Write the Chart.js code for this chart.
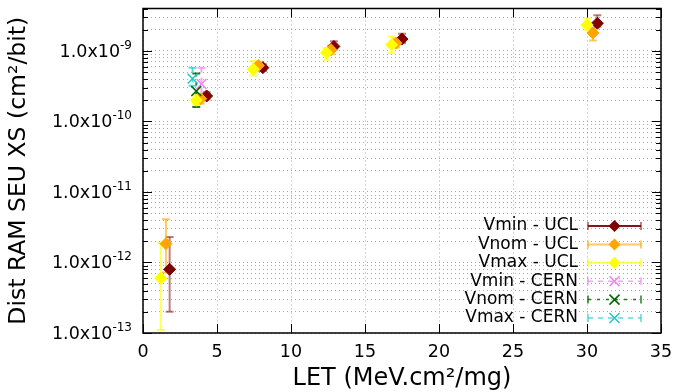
<!DOCTYPE html>
<html>
<head>
<meta charset="utf-8">
<script src="https://cdn.jsdelivr.net/npm/chart.js@4"></script>
<style>
html,body{margin:0;padding:0;background:#fff;}
#box{width:674px;height:392px;}
</style>
</head>
<body>
<div id="box"><canvas id="seuChart" width="674" height="392"></canvas></div>
<script>

/* Data (LET in MeV.cm2/mg, cross section in cm2/bit) */

const vminUclLet = [1.8, 4.3, 8.1, 12.9, 17.5, 30.7];
const vminUclXs  = [8.0e-13, 2.3e-10, 5.8e-10, 1.16e-9, 1.48e-9, 2.47e-9];
const vminUclLo  = [2.0e-13, 2.05e-10, 5.2e-10, 1.06e-9, 1.3e-9, 2.2e-9];
const vminUclHi  = [2.3e-12, 2.6e-10, 6.5e-10, 1.37e-9, 1.75e-9, 3.2e-9];

const vnomUclLet = [1.55, 3.9, 7.8, 12.7, 17.1, 30.4];
const vnomUclXs  = [1.85e-12, 2.1e-10, 6.2e-10, 1.04e-9, 1.29e-9, 1.8e-9];
const vnomUclLo  = [7.2e-13, 1.8e-10, 5.5e-10, 9.0e-10, 1.12e-9, 1.41e-9];
const vnomUclHi  = [4.1e-12, 2.45e-10, 7.0e-10, 1.2e-9, 1.5e-9, 2.1e-9];

const vmaxUclLet = [1.2, 3.6, 7.45, 12.4, 16.8, 30.0];
const vmaxUclXs  = [6.0e-13, 2.0e-10, 5.5e-10, 9.4e-10, 1.22e-9, 2.35e-9];
const vmaxUclLo  = [1.1e-13, 1.7e-10, 4.5e-10, 7.5e-10, 9.4e-10, 2.0e-9];
const vmaxUclHi  = [1.9e-12, 2.35e-10, 7.2e-10, 1.1e-9, 1.6e-9, 2.9e-9];

const vminCernLet = [3.95];
const vminCernXs  = [3.4e-10];
const vminCernLo  = [2.3e-10];
const vminCernHi  = [5.8e-10];

const vnomCernLet = [3.6];
const vnomCernXs  = [2.7e-10];
const vnomCernLo  = [1.6e-10];
const vnomCernHi  = [4.8e-10];

const vmaxCernLet = [3.35];
const vmaxCernXs  = [4.05e-10];
const vmaxCernLo  = [3.2e-10];
const vmaxCernHi  = [5.8e-10];

const yMajorTicks = [1e-13, 1e-12, 1e-11, 1e-10, 1e-9];
const yTickExps = ["-13", "-12", "-11", "-10", "-9"];
const xTicks = [0, 5, 10, 15, 20, 25, 30, 35];

const FONT = "'DejaVu Sans', sans-serif";


/* Helpers */

function points(xs, ys){
return xs.map((x,i)=>({x:x, y:ys[i]}));
}

function series(label, lets, xs, lo, hi, color, errColor, style, dash, order){
return {
label: label,
data: points(lets, xs),
lo: lo,
hi: hi,
errColor: errColor,
dash: dash,
showLine: false,
pointStyle: style,
pointRadius: style === "rectRot" ? 6 : 7,
pointBackgroundColor: color,
pointBorderColor: color,
pointBorderWidth: style === "rectRot" ? 1 : 1.5,
order: order
};
}


/* Error bars, drawn under the markers */

const errorBars = {
id: "errorBars",
beforeDatasetsDraw(chart){
const ctx = chart.ctx;
const xs = chart.scales.x, ys = chart.scales.y;
ctx.save();
chart.data.datasets.forEach(ds=>{
ctx.strokeStyle = ds.errColor;
ctx.lineWidth = 2;
ds.data.forEach((p,i)=>{
const px = xs.getPixelForValue(p.x);
const top = ys.getPixelForValue(ds.hi[i]);
const bot = ys.getPixelForValue(ds.lo[i]);
ctx.setLineDash(ds.dash || []);
ctx.beginPath();
ctx.moveTo(px, top); ctx.lineTo(px, bot);
ctx.stroke();
ctx.setLineDash([]);
ctx.beginPath();
ctx.moveTo(px-4, top); ctx.lineTo(px+4, top);
ctx.moveTo(px-4, bot); ctx.lineTo(px+4, bot);
ctx.stroke();
});
});
ctx.restore();
}
};


/* Frame, inward ticks, y labels with superscripts and the gnuplot-like key */

const frameAndKey = {
id: "frameAndKey",
afterDraw(chart){
const ctx = chart.ctx;
const a = chart.chartArea;
const xs = chart.scales.x, ys = chart.scales.y;
ctx.save();

ctx.strokeStyle = "#000";
ctx.lineWidth = 1;
ctx.beginPath();
ys.ticks.forEach(t=>{
const py = Math.round(ys.getPixelForValue(t.value)) + 0.5;
const len = t.major ? 9 : 5;
ctx.moveTo(a.left, py); ctx.lineTo(a.left+len, py);
ctx.moveTo(a.right, py); ctx.lineTo(a.right-len, py);
});
xTicks.forEach(v=>{
const px = Math.round(xs.getPixelForValue(v)) + 0.5;
ctx.moveTo(px, a.bottom); ctx.lineTo(px, a.bottom-9);
ctx.moveTo(px, a.top); ctx.lineTo(px, a.top+9);
});
ctx.stroke();

ctx.lineWidth = 1.5;
ctx.strokeRect(a.left, a.top, a.right-a.left, a.bottom-a.top);

/* y tick labels */
ctx.fillStyle = "#000";
ctx.textBaseline = "alphabetic";
ctx.textAlign = "left";
yMajorTicks.forEach((m,i)=>{
const py = ys.getPixelForValue(m);
ctx.font = "12px " + FONT;
const ew = ctx.measureText(yTickExps[i]).width;
ctx.font = "17.5px " + FONT;
const bw = ctx.measureText("1.0x10").width;
const xr = a.left - 11;
ctx.fillText("1.0x10", xr - ew - bw, py + 6);
ctx.font = "12px " + FONT;
ctx.fillText(yTickExps[i], xr - ew, py - 2);
});

/* key */
const rows = chart.data.datasets;
ctx.font = "17px " + FONT;
ctx.textAlign = "right";
ctx.textBaseline = "middle";
rows.forEach((ds,i)=>{
const y = 226 + i*18.4;
const x0 = 588, x1 = 641, xm = 614.5;
ctx.fillStyle = "#000";
ctx.fillText(ds.label, 578, y);

ctx.strokeStyle = ds.keyLine || ds.errColor;
ctx.lineWidth = ds.pointStyle === "rectRot" ? 2 : 1.5;
ctx.setLineDash(ds.dash || []);
ctx.beginPath();
ctx.moveTo(x0, y); ctx.lineTo(x1, y);
ctx.stroke();
ctx.setLineDash([]);
ctx.strokeStyle = ds.errColor;
ctx.beginPath();
ctx.moveTo(x0, y-4); ctx.lineTo(x0, y+4);
ctx.moveTo(x1, y-4); ctx.lineTo(x1, y+4);
ctx.stroke();

ctx.fillStyle = ds.pointBackgroundColor;
ctx.strokeStyle = ds.pointBorderColor;
if(ds.pointStyle === "rectRot"){
ctx.beginPath();
ctx.moveTo(xm, y-6); ctx.lineTo(xm+6, y); ctx.lineTo(xm, y+6); ctx.lineTo(xm-6, y);
ctx.closePath();
ctx.fill();
}
else{
ctx.lineWidth = 1.5;
ctx.beginPath();
ctx.moveTo(xm-5, y-5); ctx.lineTo(xm+5, y+5);
ctx.moveTo(xm+5, y-5); ctx.lineTo(xm-5, y+5);
ctx.stroke();
}
});

ctx.restore();
}
};


/* Chart */

const datasets = [
series("Vmin - UCL", vminUclLet, vminUclXs, vminUclLo, vminUclHi, "#800000", "rgba(128,0,0,0.5)", "rectRot", null, 6),
series("Vnom - UCL", vnomUclLet, vnomUclXs, vnomUclLo, vnomUclHi, "#ffa500", "rgba(255,165,0,0.6)", "rectRot", null, 5),
series("Vmax - UCL", vmaxUclLet, vmaxUclXs, vmaxUclLo, vmaxUclHi, "#ffff00", "rgba(255,255,0,0.65)", "rectRot", null, 4),
series("Vmin - CERN", vminCernLet, vminCernXs, vminCernLo, vminCernHi, "#ee82ee", "rgba(238,130,238,0.7)", "crossRot", [5,5], 3),
series("Vnom - CERN", vnomCernLet, vnomCernXs, vnomCernLo, vnomCernHi, "#006400", "rgba(0,100,0,0.85)", "crossRot", [3,6], 2),
series("Vmax - CERN", vmaxCernLet, vmaxCernXs, vmaxCernLo, vmaxCernHi, "#20c8c8", "rgba(32,200,200,0.7)", "crossRot", [5,5], 1)
];
datasets[0].keyLine = "#801818";

const ctx = document.getElementById("seuChart").getContext("2d");

const chart = new Chart(ctx, {
type: "scatter",
data: { datasets: datasets },
options: {
responsive: false,
animation: false,
events: [],
layout: { padding: { top: 5, right: 13, left: 0, bottom: 0 } },
plugins: {
legend: { display: false },
tooltip: { enabled: false }
},
scales: {
x: {
type: "linear",
min: 0,
max: 35,
afterBuildTicks: s => { s.ticks = xTicks.map(v=>({value:v})); },
afterFit: s => { s.height = 59; s.paddingLeft = 0; s.paddingRight = 0; },
border: { display: false, dash: [1,3] },
grid: { color: "#a8a8a8", lineWidth: 1, drawTicks: false },
ticks: { color: "#000", padding: 9, font: { family: FONT, size: 17.5 }, callback: v => String(v) },
title: { display: true, text: "LET (MeV.cm\u00B2/mg)", color: "#000", padding: { top: 0, bottom: 0 }, font: { family: FONT, size: 24, lineHeight: 1.1 } }
},
y: {
type: "logarithmic",
min: 1e-13,
max: 4e-9,
afterBuildTicks: s => {
const t = [];
yMajorTicks.forEach(m=>{
for(let k=1;k<=9;k++){
const v = m*k;
if(v <= 4.0001e-9) t.push({value:v, major:k===1});
}
});
s.ticks = t;
},
afterFit: s => { s.width = 143; s.paddingTop = 0; s.paddingBottom = 0; },
border: { display: false, dash: [1,3] },
grid: { color: "#a8a8a8", lineWidth: 1, drawTicks: false },
ticks: { display: true, color: "rgba(0,0,0,0)", padding: 8, autoSkip: false, font: { family: FONT, size: 17 }, callback: () => "" },
title: { display: true, text: "Dist RAM SEU XS (cm\u00B2/bit)", color: "#000", padding: { top: 6, bottom: 0 }, font: { family: FONT, size: 23.5, lineHeight: 1.1 } }
}
}
},
plugins: [errorBars, frameAndKey]
});

</script>
</body>
</html>
